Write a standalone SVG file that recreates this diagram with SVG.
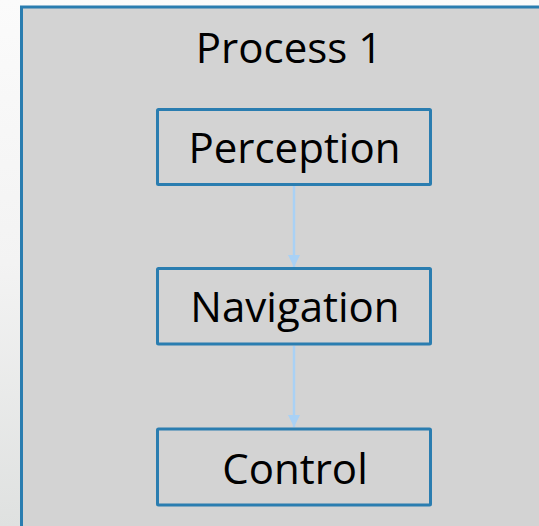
<svg xmlns="http://www.w3.org/2000/svg" width="539" height="526" viewBox="0 0 539 526">
<defs>
<linearGradient id="bg" x1="0" y1="0" x2="0" y2="1">
<stop offset="0" stop-color="#fbfbfb"/>
<stop offset="0.5" stop-color="#f3f3f3"/>
<stop offset="1" stop-color="#dfe1e0"/>
</linearGradient>
<marker id="ah" viewBox="0 0 10 10" refX="10" refY="5" markerWidth="5" markerHeight="5" markerUnits="strokeWidth" orient="auto">
<path d="M0,0 L10,5 L0,10 z" fill="#a9d1f5"/>
</marker>
<style>
.box{fill:#d3d3d3;stroke:#2a7db0;stroke-width:3}
.lbl{font-family:"Open Sans","Noto Sans",sans-serif;font-size:42px;fill:#000;text-anchor:middle}
.edge{stroke:#a9d1f5;stroke-width:2.5;fill:none}
</style>
</defs>
<rect width="539" height="526" fill="url(#bg)"/>
<g id="process1">
<rect class="box" x="21.5" y="7" width="560" height="560"/>
<text class="lbl" x="289" y="63">Process 1</text>
</g>
<g id="connectors">
<line class="edge" x1="294" y1="186" x2="294" y2="267" marker-end="url(#ah)"/>
<line class="edge" x1="294" y1="346" x2="294" y2="427" marker-end="url(#ah)"/>
</g>
<g id="perception">
<rect class="box" x="157.5" y="109.5" width="273" height="75" rx="1"/>
<text class="lbl" x="294.5" y="163">Perception</text>
</g>
<g id="navigation">
<rect class="box" x="157.5" y="268.5" width="273" height="75.5" rx="1"/>
<text class="lbl" x="295" y="322">Navigation</text>
</g>
<g id="control">
<rect class="box" x="157.5" y="429" width="273" height="76" rx="1"/>
<text class="lbl" x="295" y="484">Control</text>
</g>
</svg>
